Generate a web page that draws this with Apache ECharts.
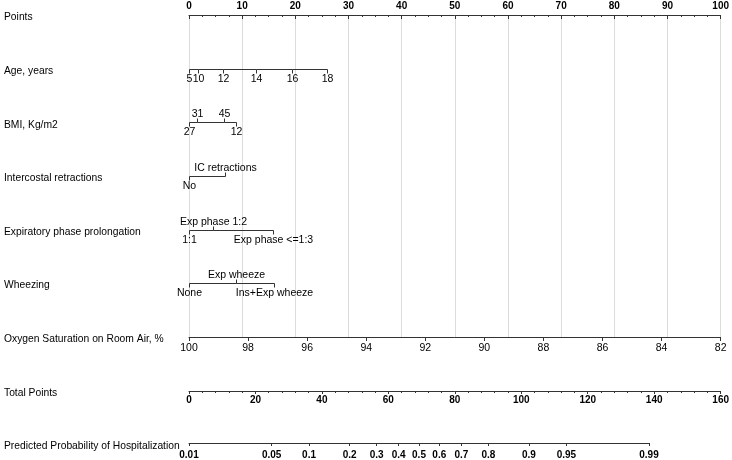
<!DOCTYPE html>
<html><head><meta charset="utf-8">
<script src="https://cdn.jsdelivr.net/npm/echarts@6/dist/echarts.min.js"></script>
<style>html,body{margin:0;padding:0;background:#fff}#c{width:732px;height:460px}</style>
</head><body><div id="c"></div>
<script>
const rowNames = ['Points','Age, years','BMI, Kg/m2','Intercostal retractions','Expiratory phase prolongation','Wheezing','Oxygen Saturation on Room Air, %','Total Points','Predicted Probability of Hospitalization'];
const pointsMin = 0, pointsMax = 100, pointsStep = 10;
const ageLabels = ['5','10','12','14','16','18'];
const agePoints = [0, 1.7, 6.4, 12.6, 19.4, 25.9];
const ageSides = ['b','b','b','b','b','b'];
const bmiLabels = ['27','31','45','12'];
const bmiPoints = [0, 1.5, 6.6, 8.8];
const bmiSides = ['b','t','t','b'];
const icLabels = ['No','IC retractions'];
const icPoints = [0, 6.8];
const icSides = ['b','t'];
const expLabels = ['1:1','Exp phase 1:2','Exp phase <=1:3'];
const expPoints = [0, 4.5, 15.8];
const expSides = ['b','t','b'];
const wheezeLabels = ['None','Exp wheeze','Ins+Exp wheeze'];
const wheezePoints = [0, 8.8, 16.0];
const wheezeSides = ['b','t','b'];
const oxygenMin = 82, oxygenMax = 100, oxygenStep = 2;
const totalMin = 0, totalMax = 160, totalStep = 20;
const probTicks = [0.01,0.05,0.1,0.2,0.3,0.4,0.5,0.6,0.7,0.8,0.9,0.95,0.99];

const FONT = '"Liberation Sans", Arial, sans-serif';
const LINE = '#333';
const logit = p => Math.log(p / (1 - p));
const probVals = probTicks.map(logit);

function rowSeries(row, labels, pts, sides) {
  return {
    type: 'custom', xAxisIndex: 0, yAxisIndex: 0, silent: true,
    data: pts.map((p, i) => [p, row, i]),
    renderItem: function (params, api) {
      const i = api.value(2);
      const c = api.coord([api.value(0), row]);
      const x = Math.round(c[0]) + 0.5, y = Math.round(c[1]) + 0.5;
      const children = [];
      if (i > 0) {
        const pc = api.coord([pts[i - 1], row]);
        children.push({type: 'line', shape: {x1: Math.round(pc[0]) + 0.5, y1: y, x2: x, y2: y}, style: {stroke: LINE, lineWidth: 1}});
      }
      const up = sides[i] === 't';
      children.push({type: 'line', shape: {x1: x, y1: y, x2: x, y2: up ? y - 4 : y + 4}, style: {stroke: LINE, lineWidth: 1}});
      children.push({type: 'text', style: {text: labels[i], x: x, y: up ? y - 3 : y + 4, align: 'center', verticalAlign: up ? 'bottom' : 'top', fill: '#000', font: '10.5px ' + FONT}});
      return {type: 'group', children: children};
    }
  };
}

const chart = echarts.init(document.getElementById('c'), null, {renderer: 'canvas'});
chart.setOption({
  animation: false,
  backgroundColor: '#fff',
  grid: [
    {left: 189, right: 11, top: 15, height: 322},
    {left: 189, right: 11, top: 391, height: 53},
    {left: 189, width: 460, top: 391, height: 53},
    {left: 189, right: 11, top: 17.5, height: 429}
  ],
  xAxis: [
    {gridIndex: 0, type: 'value', position: 'top', min: pointsMin, max: pointsMax, interval: pointsStep,
      axisLine: {show: true, onZero: false, lineStyle: {color: LINE}},
      axisTick: {show: true, inside: true, length: 4, lineStyle: {color: LINE}},
      minorTick: {show: true, splitNumber: 4, length: 2, lineStyle: {color: LINE}},
      axisLabel: {show: true, margin: 4, fontWeight: 'bold', fontSize: 10, color: '#000', fontFamily: FONT},
      splitLine: {show: true, lineStyle: {color: '#dcdcdc', width: 1}}},
    {gridIndex: 0, type: 'value', position: 'bottom', min: oxygenMin, max: oxygenMax, interval: oxygenStep, inverse: true,
      axisLine: {show: true, onZero: false, lineStyle: {color: LINE}},
      axisTick: {show: true, length: 4, lineStyle: {color: LINE}},
      axisLabel: {show: true, margin: 6, fontSize: 10.5, color: '#000', fontFamily: FONT, showMinLabel: true, showMaxLabel: true},
      splitLine: {show: false}},
    {gridIndex: 1, type: 'value', position: 'top', min: totalMin, max: totalMax, interval: totalStep,
      axisLine: {show: true, onZero: false, lineStyle: {color: LINE}},
      axisTick: {show: true, inside: true, length: 3, lineStyle: {color: LINE}},
      minorTick: {show: true, splitNumber: 5, length: 2, lineStyle: {color: LINE}},
      axisLabel: {show: true, inside: true, margin: 4, fontWeight: 'bold', fontSize: 10, color: '#000', fontFamily: FONT},
      splitLine: {show: false}},
    {gridIndex: 2, type: 'value', position: 'bottom', min: probVals[0], max: probVals[probVals.length - 1],
      axisLine: {show: true, onZero: false, lineStyle: {color: LINE}},
      axisTick: {show: true, length: 3, customValues: probVals, lineStyle: {color: LINE}},
      axisLabel: {show: true, margin: 7, fontWeight: 'bold', fontSize: 10, color: '#000', fontFamily: FONT,
        customValues: probVals,
        formatter: function (v) {
          let b = 0;
          for (let i = 0; i < probVals.length; i++) if (Math.abs(probVals[i] - v) < Math.abs(probVals[b] - v)) b = i;
          return String(probTicks[b]);
        }},
      splitLine: {show: false}},
    {gridIndex: 3, type: 'value', show: false, min: 0, max: 1}
  ],
  yAxis: [
    {gridIndex: 0, type: 'value', min: 0, max: 6, inverse: true, show: false},
    {gridIndex: 1, type: 'value', min: 0, max: 1, show: false},
    {gridIndex: 2, type: 'value', min: 0, max: 1, show: false},
    {gridIndex: 3, type: 'value', min: 0, max: rowNames.length - 1, interval: 1, inverse: true,
      axisLine: {show: false}, axisTick: {show: false}, splitLine: {show: false},
      axisLabel: {show: true, align: 'left', margin: 185, fontSize: 10.3, color: '#000', fontFamily: FONT,
        showMinLabel: true, showMaxLabel: true,
        formatter: function (v) { return rowNames[v] || ''; }}}
  ],
  series: [
    rowSeries(1, ageLabels, agePoints, ageSides),
    rowSeries(2, bmiLabels, bmiPoints, bmiSides),
    rowSeries(3, icLabels, icPoints, icSides),
    rowSeries(4, expLabels, expPoints, expSides),
    rowSeries(5, wheezeLabels, wheezePoints, wheezeSides)
  ]
});
</script>
</body></html>
